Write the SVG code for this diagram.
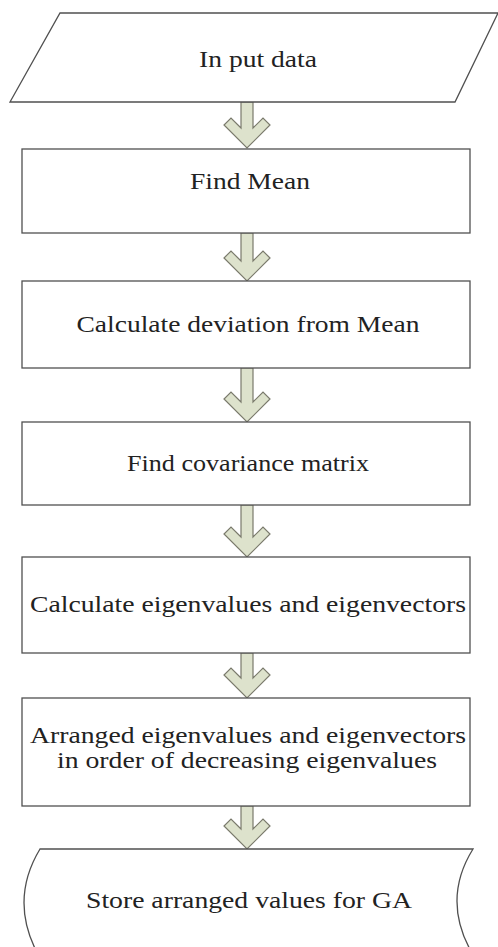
<svg xmlns="http://www.w3.org/2000/svg" width="498" height="947" viewBox="0 0 498 947">
<style>
.shape{fill:#ffffff;stroke:#505050;stroke-width:1.3}
.arrow{fill:#dde2cc;stroke:#7a7a6c;stroke-width:1.2;stroke-linejoin:miter}
text{font-family:"Liberation Serif","Times New Roman",serif;font-size:24px;fill:#222;text-anchor:middle}
</style>
<rect width="498" height="947" fill="#ffffff"/>
<g id="connectors">
<path class="arrow" d="M241,102 L241,128 L231,118 L224,125 L247,148 L270,125 L263,118 L253,128 L253,102 Z"/>
<path class="arrow" d="M241,233 L241,261 L231,251 L224,258 L247,281 L270,258 L263,251 L253,261 L253,233 Z"/>
<path class="arrow" d="M241,368 L241,402 L231,392 L224,399 L247,422 L270,399 L263,392 L253,402 L253,368 Z"/>
<path class="arrow" d="M241,505 L241,537 L231,527 L224,534 L247,557 L270,534 L263,527 L253,537 L253,505 Z"/>
<path class="arrow" d="M241,653 L241,678 L231,668 L224,675 L247,698 L270,675 L263,668 L253,678 L253,653 Z"/>
<path class="arrow" d="M241,806 L241,829 L231,819 L224,826 L247,849 L270,826 L263,819 L253,829 L253,806 Z"/>
</g>
<g id="input">
<polygon class="shape" points="60,13 498,13 455,102 10,102"/>
<text x="258" y="67" textLength="118" lengthAdjust="spacingAndGlyphs">In put data</text>
</g>
<g id="mean">
<rect class="shape" x="22" y="149" width="448" height="84"/>
<text x="250" y="189" textLength="120" lengthAdjust="spacingAndGlyphs">Find Mean</text>
</g>
<g id="deviation">
<rect class="shape" x="22" y="281" width="448" height="87"/>
<text x="248" y="332" textLength="343" lengthAdjust="spacingAndGlyphs">Calculate deviation from Mean</text>
</g>
<g id="covariance">
<rect class="shape" x="22" y="422" width="448" height="83"/>
<text x="248" y="471" textLength="242" lengthAdjust="spacingAndGlyphs">Find covariance matrix</text>
</g>
<g id="eigen">
<rect class="shape" x="22" y="557" width="448" height="96"/>
<text x="248" y="612" textLength="436" lengthAdjust="spacingAndGlyphs">Calculate eigenvalues and eigenvectors</text>
</g>
<g id="arrange">
<rect class="shape" x="22" y="698" width="448" height="108"/>
<text x="248" y="743" textLength="436" lengthAdjust="spacingAndGlyphs">Arranged eigenvalues and eigenvectors</text>
<text x="247" y="768" textLength="380" lengthAdjust="spacingAndGlyphs">in order of decreasing eigenvalues</text>
</g>
<g id="store">
<path class="shape" d="M40,849 L473,849 Q 440,902 475,958 L40,958 Q 8,902 40,849 Z"/>
<text x="249" y="908" textLength="326" lengthAdjust="spacingAndGlyphs">Store arranged values for GA</text>
</g>
</svg>
